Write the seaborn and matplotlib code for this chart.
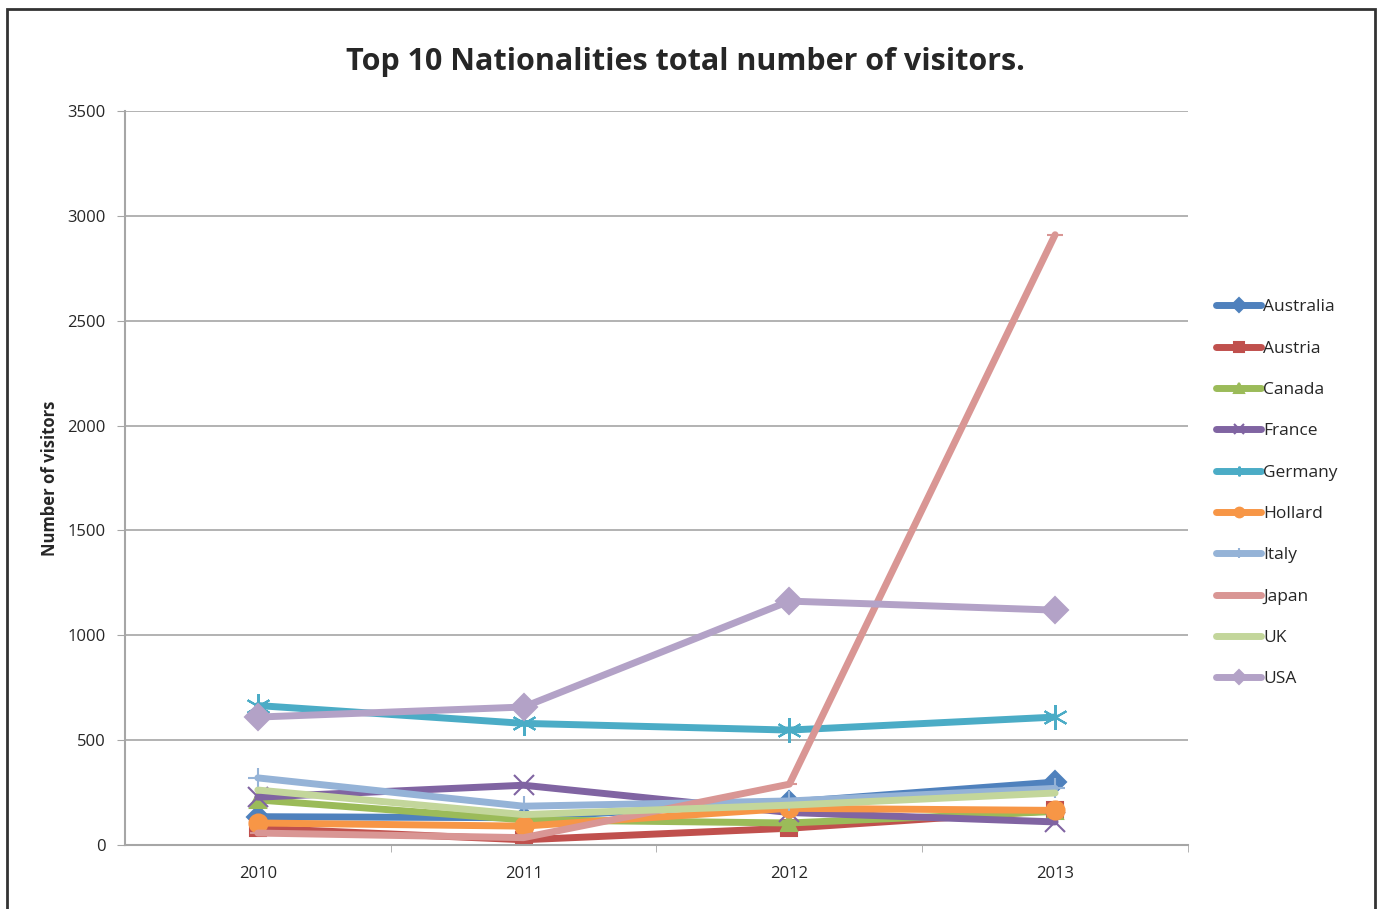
import pandas as pd
import matplotlib.pyplot as plt
import seaborn as sns
from matplotlib.patches import Rectangle
from matplotlib.ticker import FixedLocator

# Data
years = ["2010", "2011", "2012", "2013"]
countries = ["Australia", "Austria", "Canada", "France", "Germany",
             "Hollard", "Italy", "Japan", "UK", "USA"]
australia = [135, 130, 205, 300]
austria = [80, 25, 80, 165]
canada = [215, 120, 105, 160]
france = [228, 285, 155, 110]
germany = [665, 580, 548, 610]
hollard = [105, 90, 175, 165]
italy = [320, 185, 210, 270]
japan = [57, 35, 290, 2910]
uk = [262, 145, 190, 248]
usa = [610, 658, 1163, 1120]

colors = ["#4F81BD", "#C0504D", "#9BBB59", "#8064A2", "#4BACC6",
          "#F79646", "#95B3D7", "#D99694", "#C3D69B", "#B3A2C7"]
markers = ["D", "s", "^", "x", (6, 2, 0), "o", "+", "_", "", "D"]
msizes = [11, 11, 11, 14, 18, 13, 14, 12, 0, 13]

values = [australia, austria, canada, france, germany,
          hollard, italy, japan, uk, usa]
rows = []
for c, vals in zip(countries, values):
    for y, v in zip(years, vals):
        rows.append({"year": y, "country": c, "visitors": v})
df = pd.DataFrame(rows)

sns.set_style("white")
plt.rcParams["font.family"] = ["Open Sans", "DejaVu Sans"]

fig = plt.figure(figsize=(13.82, 9.09), dpi=100)
ax = fig.add_axes([0.0904, 0.0704, 0.7692, 0.8075])

for c, col, m, ms in zip(countries, colors, markers, msizes):
    sub = df[df["country"] == c]
    sns.lineplot(data=sub, x="year", y="visitors", color=col,
                 marker=m if m else None,
                 linewidth=5, markersize=ms, markeredgewidth=1.5,
                 markeredgecolor=col, label=c, ax=ax)

ax.set_xlim(-0.5, 3.5)
ax.set_ylim(0, 3500)
ax.set_yticks(range(0, 3501, 500))
ax.yaxis.grid(True, color="#a6a6a6", linewidth=1.2)
ax.set_axisbelow(True)
ax.set_xlabel("")
ax.set_ylabel("Number of visitors", fontsize=12, fontweight="bold",
              labelpad=6)

for s in ["top", "right"]:
    ax.spines[s].set_visible(False)
for s in ["left", "bottom"]:
    ax.spines[s].set_color("#a6a6a6")
    ax.spines[s].set_linewidth(1.5)

ax.xaxis.set_minor_locator(FixedLocator([0.5, 1.5, 2.5, 3.5]))
ax.tick_params(axis="x", which="major", length=0, labelsize=12, pad=15)
ax.tick_params(axis="x", which="minor", length=5, color="#a6a6a6", direction="out", bottom=True)
ax.tick_params(axis="y", length=6, color="#a6a6a6", labelsize=12, pad=8, left=True)

fig.suptitle("Top 10 Nationalities total number of visitors.", x=0.496, y=0.932,
             fontsize=22, fontweight="bold", va="center")

leg = ax.legend(loc="upper left", bbox_to_anchor=(1.02, 0.753), frameon=False,
                fontsize=12.5, handlelength=2.6, handletextpad=0.1,
                labelspacing=1.45, borderaxespad=0)
for h in leg.legend_handles:
    h.set_linewidth(5)
    h.set_markersize(7)

fig.add_artist(Rectangle((0.005, -0.01), 0.99, 1.0, transform=fig.transFigure,
                         fill=False, edgecolor="#333333", linewidth=2))

fig.savefig("out.png", dpi=100)
